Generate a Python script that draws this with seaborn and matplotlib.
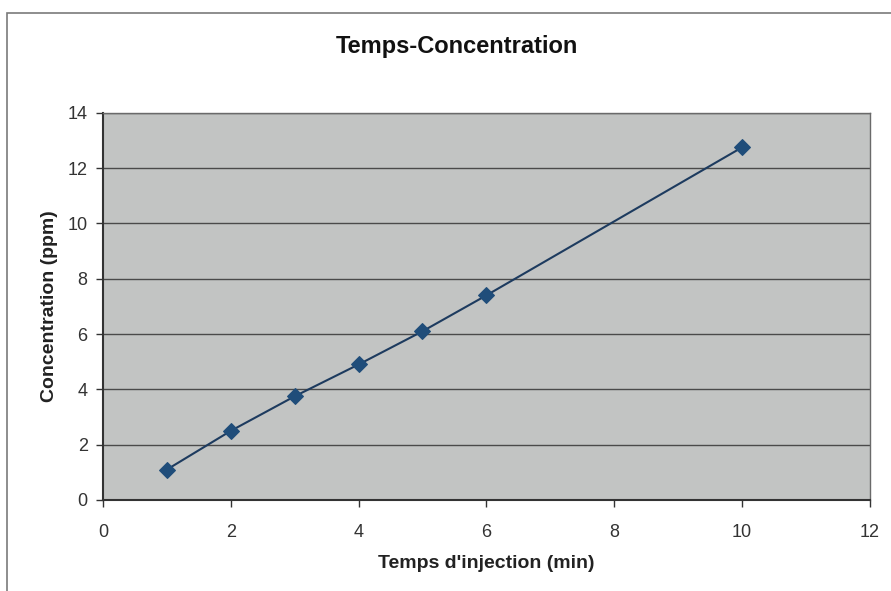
import matplotlib.pyplot as plt
import matplotlib.patches as mpatches
import pandas as pd
import seaborn as sns

# valeurs
temps = [1, 2, 3, 4, 5, 6, 10]
concentration = [1.1, 2.5, 3.75, 4.9, 6.1, 7.4, 12.75]

df = pd.DataFrame({"temps": temps, "concentration": concentration})

sns.set_style("white")
plt.rcParams['font.family'] = ['Liberation Sans', 'DejaVu Sans']

fig = plt.figure(figsize=(8.91, 5.91), dpi=100)
ax = fig.add_axes([0.1156, 0.154, 0.8605, 0.655])
ax.set_facecolor("#c2c4c3")

sns.lineplot(data=df, x="temps", y="concentration", ax=ax, color="#1d3b5f",
             linewidth=1.5, marker="D", markersize=8, markerfacecolor="#1f4d7a",
             markeredgecolor="#1f4d7a", zorder=3)

ax.set_xlim(0, 12)
ax.set_ylim(0, 14)
ax.set_xticks(range(0, 13, 2))
ax.set_yticks(range(0, 15, 2))
ax.yaxis.grid(True, color="#4a4a4a", linewidth=1)
ax.set_axisbelow(True)
for side in ["top", "right"]:
    ax.spines[side].set_color("#6a6a6a")
    ax.spines[side].set_linewidth(1)
for side in ["left", "bottom"]:
    ax.spines[side].set_color("#333333")
    ax.spines[side].set_linewidth(1.5)
ax.tick_params(axis="both", which="major", length=5, width=1, color="#333333",
               direction="out", labelsize=13, labelcolor="#333333", pad=6)
ax.tick_params(axis="x", pad=12)
ax.tick_params(bottom=True, left=True)

ax.set_xlabel("Temps d'injection (min)", fontsize=14, fontweight="bold", color="#222222")
ax.set_ylabel("Concentration (ppm)", fontsize=14, fontweight="bold", color="#222222")
ax.xaxis.set_label_coords(0.5, -0.142)
ax.yaxis.set_label_coords(-0.059, 0.5)
fig.text(0.513, 0.921, "Temps-Concentration", ha="center", va="center",
         fontsize=17, fontweight="bold", color="#111111")

# cadre du graphique
cadre = mpatches.Rectangle((0.008, -0.01), 1.0, 0.988, transform=fig.transFigure,
                           fill=False, edgecolor="#7a7a7a", linewidth=1.2)
fig.patches.append(cadre)

fig.savefig("out.png", dpi=100, facecolor="white")
